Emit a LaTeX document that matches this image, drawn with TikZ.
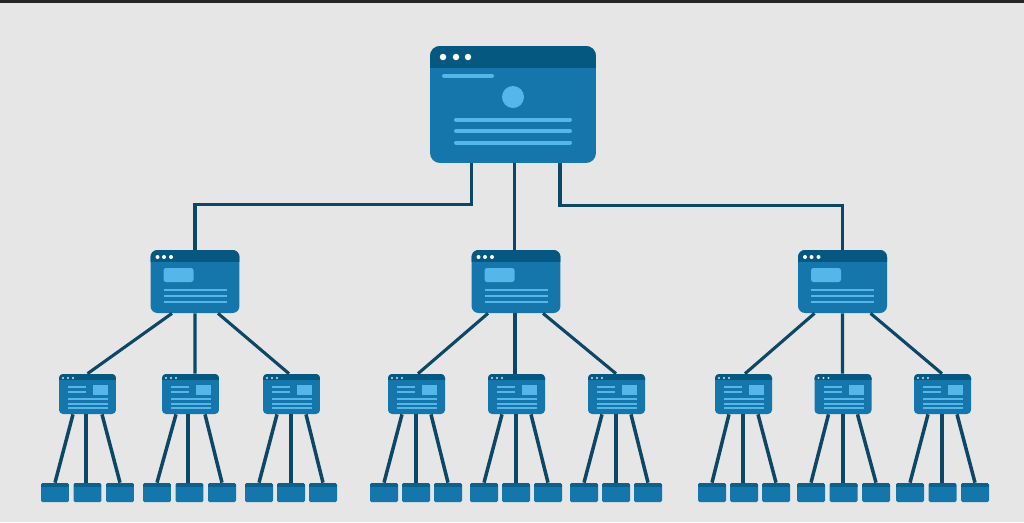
\documentclass[tikz,border=0pt]{standalone}
\usepackage{xcolor}
\usetikzlibrary{positioning,calc}
\definecolor{paper}{HTML}{E6E6E6}
\definecolor{winbody}{HTML}{1476AB}
\definecolor{winbar}{HTML}{05587F}
\definecolor{winpale}{HTML}{55B6E9}
\definecolor{wirecol}{HTML}{0C4766}
\tikzset{
    wire/.style = {draw=wirecol,line width=0.062cm},
    thinwire/.style = {draw=wirecol,line width=0.07cm},
    bigwin/.style = {rectangle,fill=winbody,inner sep=0pt,minimum width=3.32cm,minimum height=2.34cm,rounded corners=0.2cm,
        path picture={
            \begin{scope}[shift={(path picture bounding box.center)},sharp corners]
                \fill [winbar] (-90,-60) rectangle (90,-37);
                \foreach \dotx in {-70,-57,-45} \fill [white] (\dotx,-47.5) circle [radius=0.065cm];
                \draw [winpale,line width=0.08cm,line cap=round] (-69,-29) -- (-21,-29);
                \fill [winpale] (0,-7.5) circle [radius=0.22cm];
                \foreach \liney in {15,26.5,38} \draw [winpale,line width=0.08cm,line cap=round] (-57,\liney) -- (57,\liney);
            \end{scope}
        }},
    midwin/.style = {rectangle,fill=winbody,inner sep=0pt,minimum width=1.78cm,minimum height=1.26cm,rounded corners=0.14cm,
        path picture={
            \begin{scope}[shift={(path picture bounding box.center)},sharp corners]
                \fill [winbar] (-50,-35) rectangle (50,-19.5);
                \foreach \dotx in {-37.5,-31,-24} \fill [white] (\dotx,-24.5) circle [radius=0.04cm];
                \fill [winpale,rounded corners=0.05cm] (-31.5,-13.5) rectangle (-1.5,0.5);
                \foreach \liney in {8.5,14.5,20.5} \draw [winpale,line width=0.05cm] (-31.5,\liney) -- (31.5,\liney);
            \end{scope}
        }},
    smallwin/.style = {rectangle,fill=winbody,inner sep=0pt,minimum width=1.14cm,minimum height=0.8cm,rounded corners=0.08cm,
        path picture={
            \begin{scope}[shift={(path picture bounding box.center)},sharp corners]
                \fill [winbar] (-30,-22) rectangle (30,-14);
                \foreach \dotx in {-24.5,-19.5,-14.5} \fill [white!80!winbody] (\dotx,-16) circle [radius=0.022cm];
                \fill [winpale] (5.5,-9) rectangle (20.5,1);
                \foreach \liney in {-7,-2} \draw [winpale,line width=0.028cm] (-19.5,\liney) -- (-1.5,\liney);
                \foreach \liney in {5,10,14} \draw [winpale,line width=0.028cm] (-19.5,\liney) -- (20.5,\liney);
            \end{scope}
        }},
    leafwin/.style = {rectangle,fill=winbody,inner sep=0pt,minimum width=0.56cm,minimum height=0.38cm,rounded corners=0.03cm,
        path picture={
            \fill [winbar!70!winbody,sharp corners] (path picture bounding box.north west) rectangle ([yshift=-0.08cm]path picture bounding box.north east);
        }}
}
\begin{document}
\begin{tikzpicture}[x=0.02cm,y=-0.02cm]
    \useasboundingbox (0,0) rectangle (1024,522);
    \fill [paper] (0,0) rectangle (1024,522);
    \fill [black!85] (0,0) rectangle (1024,2.5);
    % top page
    \node [bigwin] (root) at (513,104.5) {};
    % second level
    \node [midwin] (mida) at (195,281.5) {};
    \node [midwin] (midb) at (516,281.5) {};
    \node [midwin] (midc) at (842.5,281.5) {};
    \draw [wire] ([xshift=-0.83cm]root.south) -- ++(0,41) -| (mida.north);
    \draw [wire] (root.south -| midb.north) ++(-1.5,0) -- ++(0,87);
    \draw [wire] ([xshift=0.94cm]root.south) -- ++(0,42) -| (midc.north);
    % third level
    \foreach \nm/\cx in {a/87.5,b/190.5,c/291.5,d/416.5,e/516.5,f/616.5,g/743.5,h/843,i/942.5}
        \node [smallwin] (low\nm) at (\cx,394) {};
    \foreach \upper/\kid/\off/\kidoff in {mida/lowa/-23/0,mida/lowb/0/4.5,mida/lowc/23/-2.5,midb/lowd/-28/1.5,midb/lowe/-1/-1.5,midb/lowf/27/-0.5,midc/lowg/-28/1.5,midc/lowh/0/-0.5,midc/lowi/28/-0.5}
        \draw [wire] ([xshift=\off*0.02cm]\upper.south) -- ([xshift=\kidoff*0.02cm]\kid.north);
    % leaves under each third level page
    \foreach \nm/\cxa/\cxb/\cxc in {a/55/86/120,b/157/188/222,c/259/291/323,d/384/416/448,e/484/516/548,f/584/616/648,g/712/743/776,h/811/843/876,i/910/942/975}{
        \node [leafwin] (leaf\nm a) at (\cxa,492.5) {};
        \node [leafwin] (leaf\nm c) at (\cxc,492.5) {};
        \draw [thinwire] ([xshift=-0.29cm]low\nm.south) -- (leaf\nm a.north);
        \draw [thinwire] ([xshift=0.29cm]low\nm.south) -- (leaf\nm c.north);
        \node [leafwin] (leaf\nm b) at ($(leaf\nm a)!0.5!(leaf\nm c)$) {};
        \coordinate (drop\nm) at (\cxb,414);
        \draw [thinwire] (drop\nm) -- (drop\nm |- leaf\nm b.north);
    }
\end{tikzpicture}
\end{document}
